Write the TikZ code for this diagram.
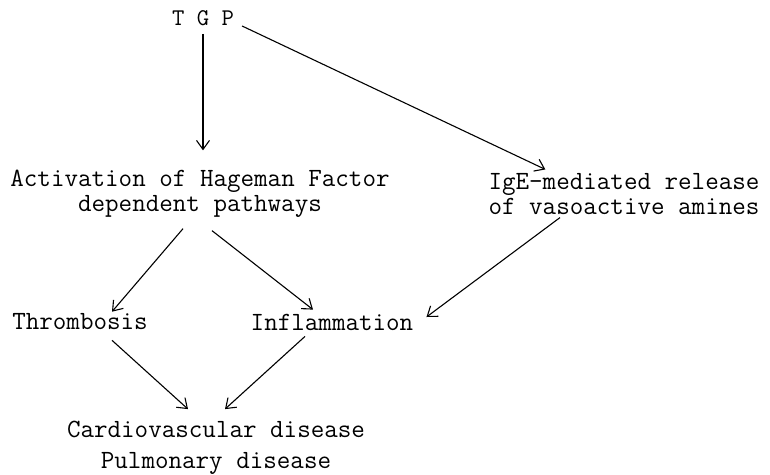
\documentclass[tikz,border=0pt]{standalone}
\usetikzlibrary{arrows.meta,calc}
\begin{document}
\begin{tikzpicture}[x=1pt,y=-1pt,
  lbl/.style={inner sep=0pt,font=\ttfamily\fontsize{26.3}{24.5}\selectfont},
  arr/.style={-{Straight Barb[length=9pt,width=13pt,line width=1.1pt]},line width=1.1pt}]
\useasboundingbox (0,0) rectangle (770,474);
\node[lbl,font=\ttfamily\fontsize{24}{24}\selectfont] (tgp) at (203,18) {T G P};
\node[lbl,align=center] (act) at (200,194) {Activation of Hageman Factor\\dependent pathways};
\node[lbl,align=left] (ige) at (624,194) {IgE-mediated release\\of vasoactive amines};
\node[lbl] (thr) at (80,322) {Thrombosis};
\node[lbl] (inf) at (332,322) {Inflammation};
\node[lbl,align=center,font=\ttfamily\fontsize{26.3}{31}\selectfont] (cv) at (216,448) {Cardiovascular disease\\Pulmonary disease};
\draw[arr] ($(tgp.south)+(0,8)$) -- ($(tgp.south |- act.north)+(0,-20)$);
\draw[arr] ($(tgp.east)+(8,8)$) -- ($(ige.north west)+(57,-4)$);
\draw[arr] ($(act.south)+(-17,11)$) -- ($(thr.north)+(32,-2)$);
\draw[arr] ($(act.south)+(12,13)$) -- ($(inf.north)+(-19,-4)$);
\draw[arr] ($(ige.south)+(-64,3)$) -- ($(inf.east)+(13,-5)$);
\draw[arr] ($(thr.south)+(32,10)$) -- ($(cv.north)+(-28,-12)$);
\draw[arr] ($(inf.south)+(-27,6)$) -- ($(cv.north)+(9,-12)$);
\end{tikzpicture}
\end{document}
